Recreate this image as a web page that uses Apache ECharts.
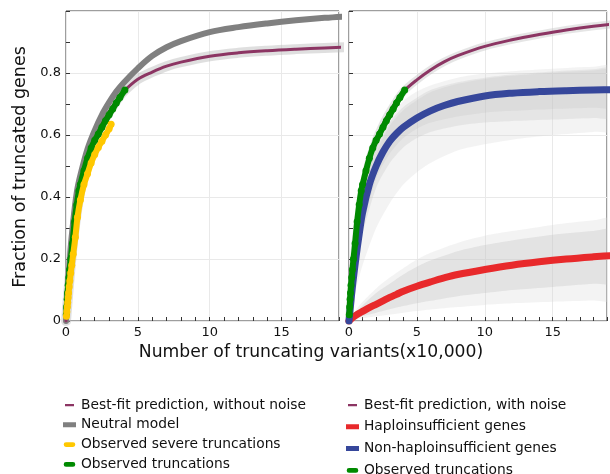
<!DOCTYPE html>
<html>
<head>
<meta charset="utf-8">
<script src="https://cdn.jsdelivr.net/npm/echarts@6.0.0/dist/echarts.min.js"></script>
<style>
html,body{margin:0;padding:0;background:#fff;}
#chart{width:610px;height:474px;}
</style>
</head>
<body>
<div id="chart"></div>
<script>
// ---------------- data (x in units of 10,000 truncating variants) ----------------
const xModel = [0,0.25,0.5,0.75,1,1.5,2,2.5,3,3.5,4,5,6,7,8,10,12,14,16,18,20];
const neutralModel = [0,0.19,0.32,0.415,0.47,0.555,0.615,0.665,0.705,0.74,0.768,0.815,0.855,0.883,0.903,0.932,0.948,0.960,0.970,0.978,0.984];
const bestFitNoNoise = [0,0.14,0.26,0.35,0.42,0.52,0.585,0.635,0.675,0.71,0.74,0.78,0.803,0.822,0.835,0.854,0.865,0.872,0.877,0.881,0.884];
const bestFitNoise = [0,0.14,0.26,0.35,0.42,0.52,0.585,0.635,0.675,0.71,0.74,0.778,0.81,0.836,0.856,0.886,0.907,0.924,0.939,0.951,0.96];
const nonHaplo = [0,0.11,0.2,0.28,0.35,0.44,0.5,0.545,0.58,0.605,0.625,0.655,0.678,0.695,0.708,0.726,0.735,0.74,0.743,0.745,0.747];
const haplo = [0,0.01,0.018,0.025,0.031,0.043,0.054,0.065,0.076,0.086,0.096,0.112,0.126,0.139,0.15,0.166,0.18,0.191,0.2,0.207,0.213];

const obsX = [0.02,0.05,0.08,0.11,0.15,0.2,0.25,0.33,0.45,0.6,0.75,0.9,1.0,1.25,1.5,1.75,2.0,2.25,2.5,2.75,3.0,3.25,3.5,3.75,4.1];
const obsY = [0.02,0.045,0.07,0.09,0.115,0.14,0.165,0.2,0.25,0.32,0.375,0.42,0.44,0.485,0.525,0.558,0.583,0.603,0.625,0.646,0.665,0.684,0.703,0.721,0.745];
const sevX = [0.03,0.06,0.09,0.12,0.15,0.18,0.22,0.27,0.33,0.4,0.5,0.65,0.8,1.0,1.25,1.5,1.75,2.0,2.25,2.5,2.75,3.0,3.14];
const sevY = [0.015,0.03,0.045,0.06,0.075,0.09,0.11,0.13,0.155,0.18,0.215,0.27,0.335,0.39,0.44,0.475,0.51,0.537,0.56,0.58,0.6,0.62,0.635];

// envelopes of the simulated replicate curves (grey spaghetti)
const xBand = [0,0.5,1,2,3,4,5,6,8,10,12,15,18,20];
const nhDenseUp = [0,0.225,0.37,0.54,0.63,0.68,0.712,0.738,0.765,0.781,0.791,0.801,0.808,0.811];
const nhDenseLo = [0,0.17,0.3,0.46,0.54,0.59,0.62,0.64,0.66,0.672,0.678,0.684,0.688,0.69];
const nhInnerUp = [0,0.23,0.38,0.55,0.64,0.69,0.72,0.745,0.77,0.785,0.795,0.805,0.812,0.815];
const nhInnerLo = [0,0.16,0.28,0.43,0.51,0.56,0.59,0.61,0.63,0.64,0.645,0.65,0.655,0.657];
const nhOuterUp = [0,0.25,0.4,0.57,0.66,0.71,0.74,0.76,0.785,0.798,0.806,0.814,0.82,0.822];
const nhOuterLo = [0,0.1,0.18,0.3,0.38,0.44,0.48,0.51,0.55,0.57,0.585,0.6,0.61,0.615];
const hInnerUp = [0,0.028,0.05,0.09,0.12,0.15,0.175,0.195,0.225,0.245,0.26,0.278,0.29,0.296];
const hInnerLo = [0,0.008,0.015,0.027,0.038,0.048,0.057,0.065,0.08,0.09,0.1,0.11,0.12,0.124];
const hOuterUp = [0,0.035,0.062,0.105,0.14,0.17,0.198,0.22,0.252,0.275,0.29,0.31,0.325,0.332];
const hOuterLo = [0,0.004,0.008,0.015,0.021,0.027,0.032,0.037,0.045,0.052,0.057,0.062,0.066,0.068];

const xTicks = [0,5,10,15];
const yTickLabels = ['0','0.2','0.4','0.6','0.8'];

// ---------------- helpers ----------------
const pairs = (xs, ys) => xs.map((x, i) => [x, ys[i]]);

const C = {
  maroon: '#8c3563', gray: '#808080', yellow: '#ffc800', green: '#008a00',
  red: '#e8292b', blue: '#36479b'
};
const FONT = 'DejaVu Sans';

function lineS(name, xi, data, color, width, z, extra) {
  return Object.assign({
    name, type: 'line', xAxisIndex: xi, yAxisIndex: xi, data,
    smooth: 0.35, symbol: 'none', showSymbol: false,
    lineStyle: {color, width, cap: 'round', join: 'round'}, itemStyle: {color},
    z, silent: true, emphasis: {disabled: true}
  }, extra || {});
}
function band(xi, lo, up, color, opacity) {
  return {
    type: 'custom', xAxisIndex: xi, yAxisIndex: xi, data: [[0, 0]], z: 1, silent: true,
    renderItem: (params, api) => {
      const pts = [];
      for (let i = 0; i < xBand.length; i++) pts.push(api.coord([xBand[i], up[i]]));
      for (let i = xBand.length - 1; i >= 0; i--) pts.push(api.coord([xBand[i], lo[i]]));
      const cs = params.coordSys;
      return {
        type: 'polygon', shape: {points: pts, smooth: 0.25},
        style: {fill: color, opacity},
        clipPath: {type: 'rect', shape: {x: cs.x, y: cs.y, width: cs.width, height: cs.height}}
      };
    }
  };
}

const obsExtra = (color) => ({
  symbol: 'circle', showSymbol: true, symbolSize: 7, showAllSymbol: true,
  itemStyle: {color, borderWidth: 0}
});

const series = [
  // left panel
  lineS('halo_left', 0, pairs(xModel, bestFitNoNoise), 'rgba(185,185,185,0.45)', 10, 2),
  lineS('Neutral model', 0, pairs(xModel, neutralModel), C.gray, 6, 3),
  lineS('Best-fit prediction, without noise', 0, pairs(xModel, bestFitNoNoise), C.maroon, 3, 4),
  lineS('Observed truncations', 0, pairs(obsX, obsY), C.green, 6, 5, obsExtra(C.green)),
  lineS('Observed severe truncations', 0, pairs(sevX, sevY), C.yellow, 6, 6, obsExtra(C.yellow)),
  // right panel
  band(1, nhOuterLo, nhOuterUp, '#d6d6d6', 0.3),
  band(1, nhInnerLo, nhInnerUp, '#c2c2c2', 0.28),
  band(1, nhDenseLo, nhDenseUp, '#b8b8b8', 0.2),
  band(1, hOuterLo, hOuterUp, '#d6d6d6', 0.3),
  band(1, hInnerLo, hInnerUp, '#c2c2c2', 0.32),
  lineS('halo_right', 1, pairs(xModel, bestFitNoise), 'rgba(190,190,190,0.4)', 8, 2),
  lineS('Best-fit prediction, with noise', 1, pairs(xModel, bestFitNoise), C.maroon, 3, 3),
  lineS('Haploinsufficient genes', 1, pairs(xModel, haplo), C.red, 7, 4),
  lineS('Non-haploinsufficient genes', 1, pairs(xModel, nonHaplo), C.blue, 7, 5),
  lineS('Observed truncations', 1, pairs(obsX, obsY), C.green, 6, 6, obsExtra(C.green))
];

// legend icons: bounding points keep every icon inside a 13x7 box
const box = (body) => 'path://M0,0h0.01v0.01h-0.01z' + body + 'M13,7h-0.01v-0.01h0.01z';
const ICON_THIN = box('M2,2.4h9v2.4h-9z');
const ICON_BAR = box('M0,1h13v5h-13z');
const ICON_PILL = box('M3,1.2h7a2.3,2.3 0 0 1 0,4.6h-7a2.3,2.3 0 0 1 0,-4.6z');

const legendText = {fontSize: 13.8, fontFamily: FONT, color: '#111'};
const legendCommon = {
  orient: 'vertical', itemWidth: 13, itemHeight: 7, selectedMode: false, height: 120,
  textStyle: legendText, itemStyle: {borderWidth: 0}, icon: 'rect', padding: 0
};

function xAxisMain(gi) {
  return {
    gridIndex: gi, type: 'value', min: 0, max: 19, interval: 5, position: 'bottom',
    axisLine: {show: false},
    axisTick: {show: true, inside: true, length: 4, lineStyle: {color: '#333', width: 1}},
    splitLine: {show: true, lineStyle: {color: '#e9e9e9', width: 1}},
    axisLabel: {
      show: true, margin: 5, fontSize: 13, fontFamily: FONT, color: '#111',
      formatter: v => (xTicks.indexOf(v) >= 0 ? String(v) : '')
    }
  };
}
function xAxisMinor(gi) {
  return {
    gridIndex: gi, type: 'value', min: 0, max: 19, interval: 1, position: 'bottom',
    axisLine: {show: false}, axisLabel: {show: false}, splitLine: {show: false},
    axisTick: {show: true, inside: true, length: 4, lineStyle: {color: '#333', width: 1}}
  };
}
function yAxis(gi, labels) {
  return {
    gridIndex: gi, type: 'value', min: 0, max: 1, interval: 0.2,
    axisLine: {show: false},
    axisTick: {show: true, inside: true, length: 4, lineStyle: {color: '#333'}},
    minorTick: {show: true, splitNumber: 2, length: 4, lineStyle: {color: '#333'}},
    splitLine: {show: true, lineStyle: {color: '#e9e9e9', width: 1}},
    axisLabel: {
      show: labels, margin: 5, fontSize: 13, fontFamily: FONT, color: '#111',
      formatter: v => {
        const i = Math.round(v / 0.2);
        return (Math.abs(v - i * 0.2) < 1e-6 && i < yTickLabels.length) ? yTickLabels[i] : '';
      }
    }
  };
}

const option = {
  animation: false,
  backgroundColor: '#fff',
  grid: [
    {left: 66, top: 11, width: 273, height: 310, show: true, borderColor: '#3c3c3c', borderWidth: 1, backgroundColor: 'rgba(0,0,0,0)'},
    {left: 349, top: 11, width: 273, height: 310, show: true, borderColor: '#3c3c3c', borderWidth: 1, backgroundColor: 'rgba(0,0,0,0)'}
  ],
  xAxis: [xAxisMain(0), xAxisMain(1), xAxisMinor(0), xAxisMinor(1)],
  yAxis: [yAxis(0, true), yAxis(1, false)],
  legend: [
    Object.assign({}, legendCommon, {
      left: 63, top: 398, itemGap: 5.8,
      data: [
        {name: 'Best-fit prediction, without noise', icon: ICON_THIN, itemStyle: {color: C.maroon}},
        {name: 'Neutral model', icon: ICON_BAR, itemStyle: {color: C.gray}},
        {name: 'Observed severe truncations', icon: ICON_PILL, itemStyle: {color: C.yellow}},
        {name: 'Observed truncations', icon: ICON_PILL, itemStyle: {color: C.green}}
      ]
    }),
    Object.assign({}, legendCommon, {
      left: 346, top: 398, itemGap: 7.8,
      data: [
        {name: 'Best-fit prediction, with noise', icon: ICON_THIN, itemStyle: {color: C.maroon}},
        {name: 'Haploinsufficient genes', icon: ICON_BAR, itemStyle: {color: C.red}},
        {name: 'Non-haploinsufficient genes', icon: ICON_BAR, itemStyle: {color: C.blue}},
        {name: 'Observed truncations', icon: ICON_PILL, itemStyle: {color: C.green}}
      ]
    })
  ],
  graphic: [
    {type: 'text', x: 20, y: 167, rotation: Math.PI / 2,
     style: {text: 'Fraction of truncated genes', font: '17.5px "DejaVu Sans"', fill: '#111', textAlign: 'center', textVerticalAlign: 'middle'}},
    {type: 'text', x: 311, y: 353,
     style: {text: 'Number of truncating variants(x10,000)', font: '17.2px "DejaVu Sans"', fill: '#111', textAlign: 'center', textVerticalAlign: 'middle'}}
  ],
  series
};

const chart = echarts.init(document.getElementById('chart'), null, {renderer: 'canvas'});
chart.setOption(option);
</script>
</body>
</html>
